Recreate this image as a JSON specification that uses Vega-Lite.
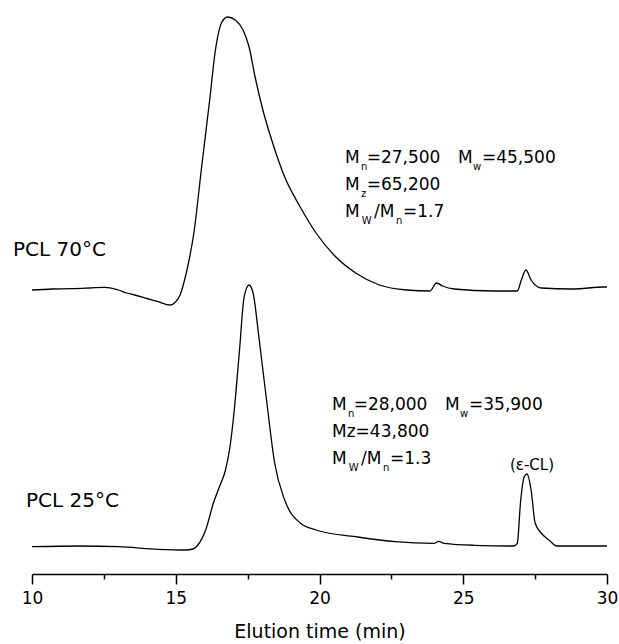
{
  "$schema": "https://vega.github.io/schema/vega-lite/v6.json",
  "width": 575,
  "height": 574,
  "autosize": {"type": "none"},
  "padding": {"left": 32, "top": 0, "right": 12, "bottom": 70},
  "background": "white",
  "config": {"view": {"stroke": null}, "font": "DejaVu Sans"},
  "datasets": {
    "traces": [
      {"sample": "PCL 70°C", "time": 10.0, "signal": 284},
      {"sample": "PCL 70°C", "time": 10.7, "signal": 285},
      {"sample": "PCL 70°C", "time": 11.37, "signal": 285.3},
      {"sample": "PCL 70°C", "time": 12.0, "signal": 286},
      {"sample": "PCL 70°C", "time": 12.54, "signal": 286.7},
      {"sample": "PCL 70°C", "time": 13.0, "signal": 284},
      {"sample": "PCL 70°C", "time": 13.3, "signal": 281},
      {"sample": "PCL 70°C", "time": 13.57, "signal": 279},
      {"sample": "PCL 70°C", "time": 14.0, "signal": 275.5},
      {"sample": "PCL 70°C", "time": 14.39, "signal": 272.3},
      {"sample": "PCL 70°C", "time": 14.8, "signal": 269},
      {"sample": "PCL 70°C", "time": 15.0, "signal": 272.3},
      {"sample": "PCL 70°C", "time": 15.15, "signal": 279},
      {"sample": "PCL 70°C", "time": 15.28, "signal": 291},
      {"sample": "PCL 70°C", "time": 15.45, "signal": 312},
      {"sample": "PCL 70°C", "time": 15.63, "signal": 341},
      {"sample": "PCL 70°C", "time": 15.9, "signal": 407},
      {"sample": "PCL 70°C", "time": 16.18, "signal": 474},
      {"sample": "PCL 70°C", "time": 16.38, "signal": 524},
      {"sample": "PCL 70°C", "time": 16.59, "signal": 551},
      {"sample": "PCL 70°C", "time": 16.8, "signal": 557},
      {"sample": "PCL 70°C", "time": 17.07, "signal": 554},
      {"sample": "PCL 70°C", "time": 17.34, "signal": 544},
      {"sample": "PCL 70°C", "time": 17.55, "signal": 527},
      {"sample": "PCL 70°C", "time": 17.76, "signal": 497},
      {"sample": "PCL 70°C", "time": 18.03, "signal": 464},
      {"sample": "PCL 70°C", "time": 18.37, "signal": 431},
      {"sample": "PCL 70°C", "time": 18.79, "signal": 397},
      {"sample": "PCL 70°C", "time": 19.33, "signal": 367},
      {"sample": "PCL 70°C", "time": 19.88, "signal": 341},
      {"sample": "PCL 70°C", "time": 20.57, "signal": 317},
      {"sample": "PCL 70°C", "time": 21.26, "signal": 301},
      {"sample": "PCL 70°C", "time": 22.08, "signal": 289},
      {"sample": "PCL 70°C", "time": 23.04, "signal": 284},
      {"sample": "PCL 70°C", "time": 23.84, "signal": 283},
      {"sample": "PCL 70°C", "time": 24.07, "signal": 291},
      {"sample": "PCL 70°C", "time": 24.28, "signal": 288},
      {"sample": "PCL 70°C", "time": 24.69, "signal": 285},
      {"sample": "PCL 70°C", "time": 26.06, "signal": 283},
      {"sample": "PCL 70°C", "time": 26.88, "signal": 283},
      {"sample": "PCL 70°C", "time": 27.02, "signal": 294},
      {"sample": "PCL 70°C", "time": 27.18, "signal": 304},
      {"sample": "PCL 70°C", "time": 27.36, "signal": 294},
      {"sample": "PCL 70°C", "time": 27.71, "signal": 286},
      {"sample": "PCL 70°C", "time": 28.81, "signal": 285},
      {"sample": "PCL 70°C", "time": 29.9, "signal": 287},
      {"sample": "PCL 70°C", "time": 30.0, "signal": 287},
      {"sample": "PCL 25°C", "time": 10.0, "signal": 27.3},
      {"sample": "PCL 25°C", "time": 11.65, "signal": 28},
      {"sample": "PCL 25°C", "time": 13.02, "signal": 27.3},
      {"sample": "PCL 25°C", "time": 14.39, "signal": 24.7},
      {"sample": "PCL 25°C", "time": 15.35, "signal": 24},
      {"sample": "PCL 25°C", "time": 15.6, "signal": 25},
      {"sample": "PCL 25°C", "time": 15.77, "signal": 29},
      {"sample": "PCL 25°C", "time": 16.04, "signal": 44},
      {"sample": "PCL 25°C", "time": 16.31, "signal": 71},
      {"sample": "PCL 25°C", "time": 16.52, "signal": 87.3},
      {"sample": "PCL 25°C", "time": 16.73, "signal": 104},
      {"sample": "PCL 25°C", "time": 16.88, "signal": 126},
      {"sample": "PCL 25°C", "time": 17.0, "signal": 154},
      {"sample": "PCL 25°C", "time": 17.21, "signal": 221},
      {"sample": "PCL 25°C", "time": 17.38, "signal": 277.3},
      {"sample": "PCL 25°C", "time": 17.55, "signal": 289},
      {"sample": "PCL 25°C", "time": 17.69, "signal": 281},
      {"sample": "PCL 25°C", "time": 17.89, "signal": 237.3},
      {"sample": "PCL 25°C", "time": 18.17, "signal": 171},
      {"sample": "PCL 25°C", "time": 18.44, "signal": 111},
      {"sample": "PCL 25°C", "time": 18.79, "signal": 74},
      {"sample": "PCL 25°C", "time": 19.33, "signal": 51},
      {"sample": "PCL 25°C", "time": 19.88, "signal": 44},
      {"sample": "PCL 25°C", "time": 21.26, "signal": 37.3},
      {"sample": "PCL 25°C", "time": 22.63, "signal": 32.3},
      {"sample": "PCL 25°C", "time": 24.0, "signal": 30.7},
      {"sample": "PCL 25°C", "time": 24.14, "signal": 32.7},
      {"sample": "PCL 25°C", "time": 24.34, "signal": 30.7},
      {"sample": "PCL 25°C", "time": 25.37, "signal": 28.7},
      {"sample": "PCL 25°C", "time": 26.75, "signal": 28},
      {"sample": "PCL 25°C", "time": 26.88, "signal": 30.7},
      {"sample": "PCL 25°C", "time": 26.99, "signal": 71},
      {"sample": "PCL 25°C", "time": 27.12, "signal": 97.3},
      {"sample": "PCL 25°C", "time": 27.22, "signal": 100},
      {"sample": "PCL 25°C", "time": 27.36, "signal": 84},
      {"sample": "PCL 25°C", "time": 27.5, "signal": 51},
      {"sample": "PCL 25°C", "time": 27.71, "signal": 41},
      {"sample": "PCL 25°C", "time": 27.98, "signal": 34},
      {"sample": "PCL 25°C", "time": 28.26, "signal": 28},
      {"sample": "PCL 25°C", "time": 30.0, "signal": 28}
    ],
    "annMain": [
      {"time": 20.887, "signal": 416, "text": "M"},
      {"time": 21.641, "signal": 416, "text": "=27,500"},
      {"time": 24.817, "signal": 416, "text": "M"},
      {"time": 25.652, "signal": 416, "text": "=45,500"},
      {"time": 20.887, "signal": 389, "text": "M"},
      {"time": 21.641, "signal": 389, "text": "=65,200"},
      {"time": 20.887, "signal": 362, "text": "M"},
      {"time": 21.896, "signal": 362, "text": "/M"},
      {"time": 22.904, "signal": 362, "text": "=1.7"},
      {"time": 20.435, "signal": 169, "text": "M"},
      {"time": 21.19, "signal": 169, "text": "=28,000"},
      {"time": 24.365, "signal": 169, "text": "M"},
      {"time": 25.2, "signal": 169, "text": "=35,900"},
      {"time": 20.435, "signal": 142, "text": "Mz=43,800"},
      {"time": 20.435, "signal": 115, "text": "M"},
      {"time": 21.443, "signal": 115, "text": "/M"},
      {"time": 22.452, "signal": 115, "text": "=1.3"}
    ],
    "annSub": [
      {"time": 21.443, "signal": 416, "text": "n"},
      {"time": 25.339, "signal": 416, "text": "w"},
      {"time": 21.443, "signal": 389, "text": "z"},
      {"time": 21.466, "signal": 362, "text": "W"},
      {"time": 22.661, "signal": 362, "text": "n"},
      {"time": 20.991, "signal": 169, "text": "n"},
      {"time": 24.887, "signal": 169, "text": "w"},
      {"time": 21.016, "signal": 115, "text": "W"},
      {"time": 22.209, "signal": 115, "text": "n"}
    ],
    "sampleLabels": [
      {"time": 9.339, "signal": 324, "text": "PCL 70°C"},
      {"time": 9.79, "signal": 73, "text": "PCL 25°C"}
    ],
    "peakLabels": [
      {"time": 27.39, "signal": 109, "text": "(ε-CL)"}
    ]
  },
  "layer": [
    {
      "data": {"name": "traces"},
      "mark": {"type": "line", "color": "black", "strokeWidth": 1.3, "interpolate": "monotone"},
      "encoding": {
        "x": {
          "field": "time", "type": "quantitative",
          "scale": {"domain": [10, 30], "nice": false, "zero": false},
          "axis": {
            "orient": "bottom",
            "values": [10, 12.5, 15, 17.5, 20, 22.5, 25, 27.5, 30],
            "labelExpr": "datum.value % 5 === 0 ? datum.label : ''",
            "title": "Elution time (min)",
            "grid": false,
            "domainColor": "black", "domainWidth": 1.5,
            "tickColor": "black", "tickWidth": 1.5,
            "tickSize": {"condition": {"test": "datum.value % 5 === 0", "value": 10}, "value": 5},
            "labelFontSize": 17, "labelColor": "black", "labelPadding": 6,
            "labelFont": "DejaVu Sans", "labelFlush": false,
            "titleFontSize": 19, "titleFontWeight": "normal", "titleColor": "black",
            "titleFont": "DejaVu Sans", "titlePadding": 16
          }
        },
        "y": {
          "field": "signal", "type": "quantitative",
          "scale": {"domain": [0, 574], "nice": false, "zero": false},
          "axis": null
        },
        "detail": {"field": "sample", "type": "nominal"}
      }
    },
    {
      "data": {"name": "annMain"},
      "mark": {"type": "text", "align": "left", "baseline": "middle", "fontSize": 17, "font": "DejaVu Sans", "color": "black"},
      "encoding": {
        "x": {"field": "time", "type": "quantitative"},
        "y": {"field": "signal", "type": "quantitative", "axis": null},
        "text": {"field": "text", "type": "nominal"}
      }
    },
    {
      "data": {"name": "annSub"},
      "mark": {"type": "text", "align": "left", "baseline": "middle", "fontSize": 10, "dy": 9, "font": "DejaVu Sans", "color": "black"},
      "encoding": {
        "x": {"field": "time", "type": "quantitative"},
        "y": {"field": "signal", "type": "quantitative", "axis": null},
        "text": {"field": "text", "type": "nominal"}
      }
    },
    {
      "data": {"name": "sampleLabels"},
      "mark": {"type": "text", "align": "left", "baseline": "middle", "fontSize": 20, "font": "DejaVu Sans", "color": "black"},
      "encoding": {
        "x": {"field": "time", "type": "quantitative"},
        "y": {"field": "signal", "type": "quantitative", "axis": null},
        "text": {"field": "text", "type": "nominal"}
      }
    },
    {
      "data": {"name": "peakLabels"},
      "mark": {"type": "text", "align": "center", "baseline": "middle", "fontSize": 15, "font": "DejaVu Sans", "color": "black"},
      "encoding": {
        "x": {"field": "time", "type": "quantitative"},
        "y": {"field": "signal", "type": "quantitative", "axis": null},
        "text": {"field": "text", "type": "nominal"}
      }
    }
  ]
}
